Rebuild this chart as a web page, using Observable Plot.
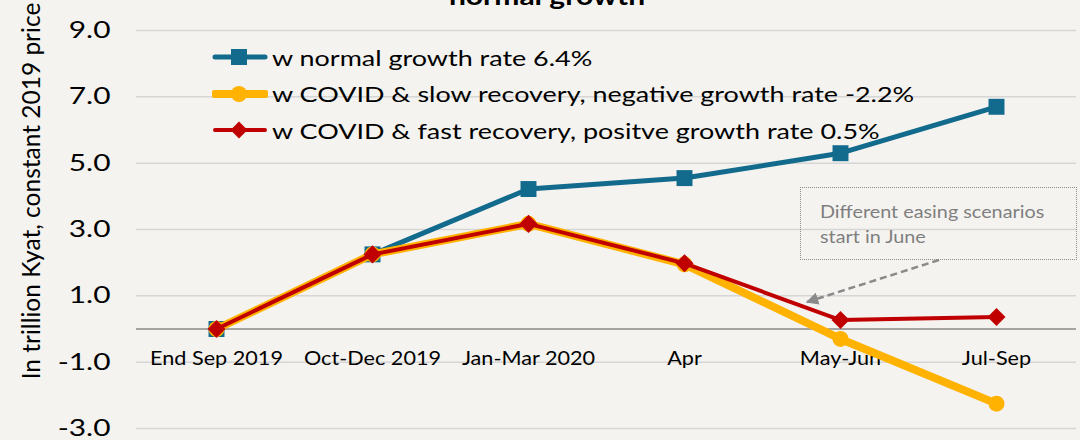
<!DOCTYPE html>
<html>
<head>
<meta charset="utf-8">
<script src="https://cdn.jsdelivr.net/npm/d3@7"></script>
<script src="https://cdn.jsdelivr.net/npm/@observablehq/plot@0.6"></script>
<style>
  html, body { margin: 0; padding: 0; background: #f4f3ef; }
  #wrap { position: relative; width: 1080px; height: 440px; overflow: hidden; background: #f4f3ef; font-family: Lato, "Open Sans", sans-serif; color: #000; }
  #chart { position: absolute; left: 0; top: 0; }
  .title { position: absolute; left: 547px; top: -17px; transform: translateX(-50%) scaleX(1.2); font-weight: bold; font-size: 25px; line-height: 25px; white-space: nowrap; }
  .ytitle { position: absolute; left: 30px; top: 191px; transform: translate(-50%, -50%) rotate(-90deg); font-size: 24.5px; white-space: nowrap; }
  .legend { position: absolute; left: 212px; top: 39px; font-size: 22px; }
  .legend .row { display: flex; align-items: center; height: 36.5px; white-space: nowrap; }
  .legend .row span { display: inline-block; transform: scaleX(1.225); transform-origin: 0 50%; }
  .legend svg { margin-right: 4px; flex: none; }
  .note { position: absolute; left: 800px; top: 187px; width: 277px; height: 73px; border: 1px dotted #8c8c8c; box-sizing: border-box; color: #7f7f7f; font-size: 18px; line-height: 25px; padding: 11px 0 0 19px; white-space: nowrap; }
  .note span { display: inline-block; transform: scaleX(1.1); transform-origin: 0 50%; }
  #over { position: absolute; left: 0; top: 0; }
</style>
</head>
<body>
<div id="wrap">
  <div id="chart"></div>
  <div class="title">normal growth</div>
  <div class="ytitle">In trillion Kyat, constant 2019 price</div>
  <div class="legend" id="legend"></div>
  <div class="note"><span>Different easing scenarios</span><br><span>start in June</span></div>
  <svg id="over" width="1080" height="440"></svg>
</div>
<script>
const categories = ["End Sep 2019", "Oct-Dec 2019", "Jan-Mar 2020", "Apr", "May-Jun", "Jul-Sep"];
const normalGrowth = [0, 2.25, 4.22, 4.55, 5.3, 6.7];
const slowRecovery = [0, 2.25, 3.17, 1.95, -0.3, -2.25];
const fastRecovery = [0, 2.25, 3.17, 1.98, 0.27, 0.36];
const seriesNames = [
  "w normal growth rate 6.4%",
  "w COVID & slow recovery, negative growth rate -2.2%",
  "w COVID & fast recovery, positve growth rate 0.5%"
];
const yTicks = [-3, -1, 1, 3, 5, 7, 9];

const colors = ["#126a8c", "#ffb300", "#c00000"];

const toRows = vals => categories.map((c, i) => ({cat: c, v: vals[i]}));
const rowsN = toRows(normalGrowth), rowsS = toRows(slowRecovery), rowsF = toRows(fastRecovery);
const labelRows = categories.map(c => ({cat: c, v: 0}));

const chart = Plot.plot({
  width: 1080, height: 440,
  marginLeft: 136, marginRight: 4, marginTop: 30, marginBottom: 12,
  style: {background: "transparent", fontFamily: "Lato, 'Open Sans', sans-serif", color: "#000", overflow: "visible"},
  x: {type: "point", domain: categories, padding: 0.5, axis: null},
  y: {domain: [-3, 9], axis: null},
  marks: [
    Plot.gridY(yTicks, {stroke: "#d6d6d6", strokeOpacity: 1, strokeWidth: 1.5}),
    Plot.ruleY([0], {stroke: "#8a8a8a", strokeWidth: 1.6}),
    Plot.axisY(yTicks, {tickSize: 0, tickPadding: 26, tickFormat: d => d.toFixed(1), fontSize: 23, fontWeight: 400, label: null, fill: "#000"}),
    Plot.text(labelRows, {x: "cat", y: "v", text: "cat", dy: 30, fontSize: 19.5, fontWeight: 400, fill: "#000"}),
    Plot.line(rowsN, {x: "cat", y: "v", stroke: colors[0], strokeWidth: 5}),
    Plot.dot(rowsN, {x: "cat", y: "v", symbol: "square", r: 9, fill: colors[0], stroke: null}),
    Plot.line(rowsS, {x: "cat", y: "v", stroke: colors[1], strokeWidth: 8}),
    Plot.dot(rowsS, {x: "cat", y: "v", r: 8, fill: colors[1], stroke: null}),
    Plot.line(rowsF, {x: "cat", y: "v", stroke: colors[2], strokeWidth: 4}),
    Plot.dot(rowsF, {x: "cat", y: "v", symbol: "square", r: 7.2, rotate: 45, fill: colors[2], stroke: null})
  ]
});
document.getElementById("chart").appendChild(chart);

// widen text horizontally to match the reference's stretched type
function stretch(selector, sx) {
  chart.querySelectorAll(selector).forEach(t => {
    const tr = t.getAttribute("transform") || "";
    t.setAttribute("transform", tr + ` scale(${sx},1)`);
  });
}
stretch('g[aria-label="y-axis tick label"] text', 1.3);
stretch('g[aria-label="text"] text', 1.11);

// legend
const legend = document.getElementById("legend");
const shapes = [
  `<rect x="19" y="7" width="16" height="16" fill="${colors[0]}"/>`,
  `<circle cx="27" cy="15" r="8" fill="${colors[1]}"/>`,
  `<rect x="21" y="9" width="12" height="12" fill="${colors[2]}" transform="rotate(45 27 15)"/>`
];
const widths = [5, 8, 4];
seriesNames.forEach((name, i) => {
  const row = document.createElement("div");
  row.className = "row";
  row.innerHTML = `<svg width="56" height="30"><line x1="3" y1="15" x2="53" y2="15" stroke="${colors[i]}" stroke-width="${widths[i]}" stroke-linecap="round"/>${shapes[i]}</svg><span>${name}</span>`;
  legend.appendChild(row);
});

// annotation arrow
const over = d3.select("#over");
over.append("defs").append("marker")
  .attr("id", "ah").attr("viewBox", "0 0 10 10").attr("refX", 9).attr("refY", 5)
  .attr("markerWidth", 5).attr("markerHeight", 5).attr("orient", "auto-start-reverse")
  .append("path").attr("d", "M0,0 L10,5 L0,10 z").attr("fill", "#8a8a8a");
over.append("line")
  .attr("x1", 939).attr("y1", 260).attr("x2", 807).attr("y2", 302)
  .attr("stroke", "#8a8a8a").attr("stroke-width", 2.5).attr("stroke-dasharray", "7,4")
  .attr("marker-end", "url(#ah)");
</script>
</body>
</html>
